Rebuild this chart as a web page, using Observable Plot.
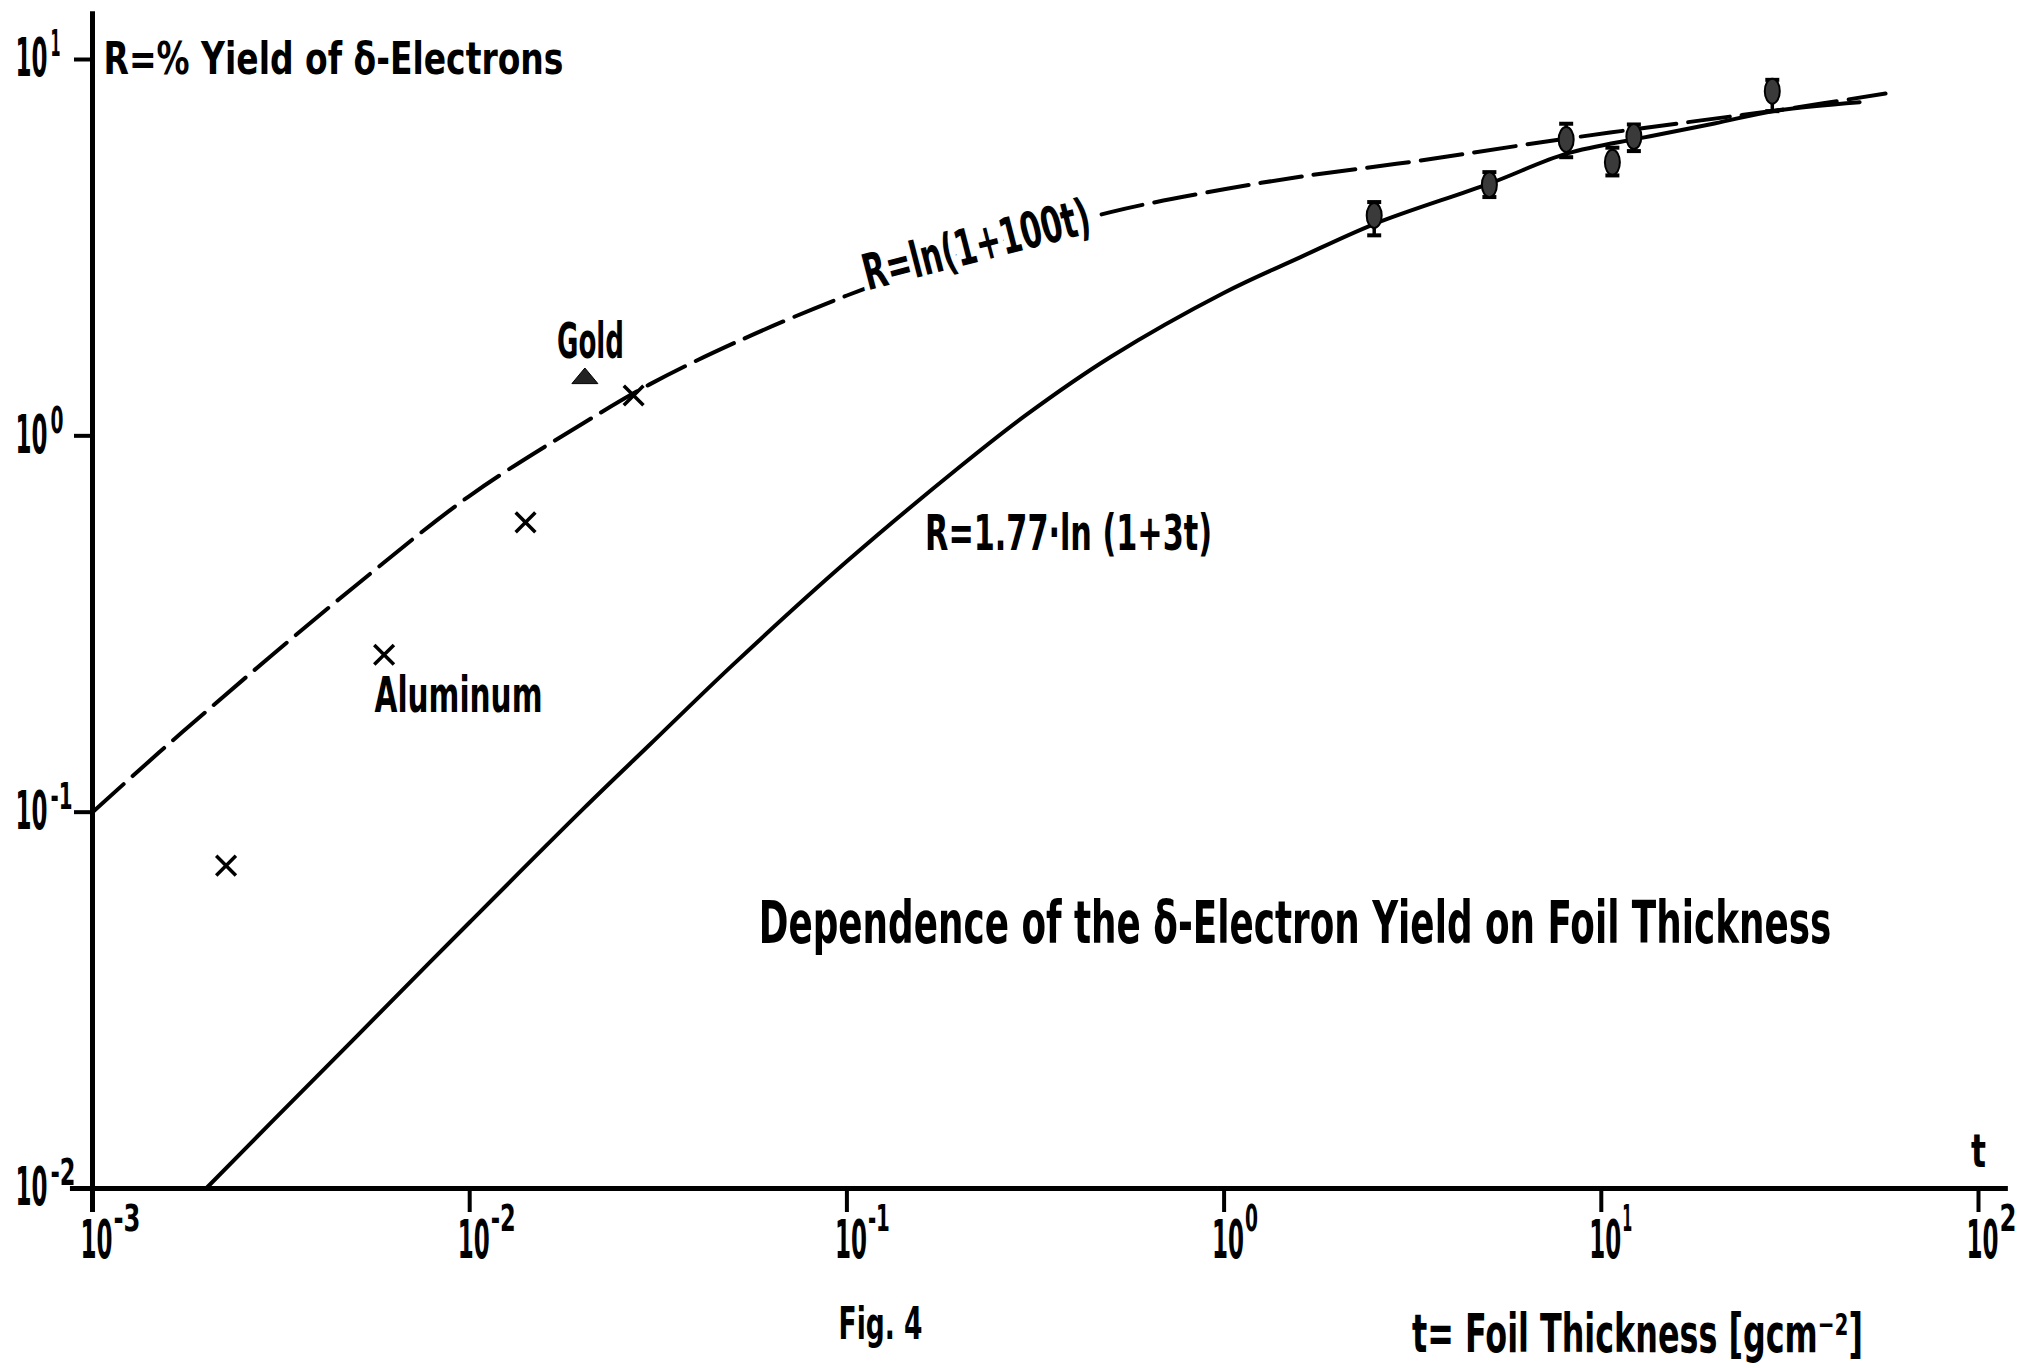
<!DOCTYPE html>
<html><head><meta charset="utf-8">
<script src="https://cdn.jsdelivr.net/npm/d3@7"></script>
<script src="https://cdn.jsdelivr.net/npm/@observablehq/plot@0.6"></script>
<style>
html,body{margin:0;padding:0;background:#fff;}
svg{display:block;}
</style></head><body><div id="chart"></div>
<script>
const FONT = '"DejaVu Sans Condensed","Liberation Sans Narrow","DejaVu Sans",sans-serif';

// tick values
const xTicks = [1e-3, 1e-2, 1e-1, 1e0, 1e1, 1e2];
const yTicks = [1e-2, 1e-1, 1e0, 1e1];

// dashed curve R = ln(1+100t)
const dashT = [0.001, 0.0015, 0.002, 0.003, 0.005, 0.01, 0.02, 0.03, 0.05, 0.1, 0.2, 0.5, 1.0, 1.59, 3.32, 7.7, 18.4, 29.0, 56.7];
const dashR = [0.100, 0.144, 0.185, 0.262, 0.401, 0.693, 1.08, 1.37, 1.76, 2.36, 3.02, 3.93, 4.52, 4.88, 5.39, 6.12, 6.89, 7.32, 8.12];

// solid curve R = 1.77 ln(1+3t)
const solidT = [0.002, 0.003, 0.005, 0.01, 0.02, 0.03, 0.05, 0.1, 0.2, 0.3, 0.5, 1.0, 1.59, 2.51, 5.05, 8.09, 12.9, 19.95, 28.8, 48.4];
const solidR = [0.0100, 0.0151, 0.0253, 0.051, 0.102, 0.151, 0.247, 0.464, 0.83, 1.14, 1.62, 2.40, 2.98, 3.66, 4.68, 5.62, 6.20, 6.76, 7.30, 7.70];

// measured points with error bars
const measT  = [2.50, 5.05, 8.07, 10.7, 12.2, 28.4];
const measR  = [3.85, 4.65, 6.13, 5.33, 6.24, 8.24];
const measLo = [3.41, 4.31, 5.50, 4.92, 5.71, 7.29];
const measHi = [4.18, 5.02, 6.75, 5.83, 6.72, 8.83];

// aluminum crosses
const alT = [0.00226, 0.00593, 0.01406, 0.0272];
const alR = [0.0721, 0.262, 0.589, 1.28];

// gold triangle
const goldT = [0.0202];
const goldR = [1.43];

// axis line extents
const yAxisLine = [0.00863, 13.4];
const xAxisLine = [0.000874, 120];

const dash = dashT.map((t, i) => ({t, R: dashR[i]}));
const solid = solidT.map((t, i) => ({t, R: solidR[i]}));
const meas = measT.map((t, i) => ({t, R: measR[i], lo: measLo[i], hi: measHi[i]}));
const al = alT.map((t, i) => ({t, R: alR[i]}));
const gold = goldT.map((t, i) => ({t, R: goldR[i]}));

const base = () => "10";
const expo = d => String(Math.round(Math.log10(d)));

const capSymbol = {draw(ctx, size) { const r = Math.sqrt(size / Math.PI); ctx.moveTo(-r, 0); ctx.lineTo(r, 0); }};
const ovalSymbol = {draw(ctx, size) {
  const r = Math.sqrt(size / Math.PI), rx = r * 0.6, ry = r, k = 0.5523;
  ctx.moveTo(0, -ry);
  ctx.bezierCurveTo(k * rx, -ry, rx, -k * ry, rx, 0);
  ctx.bezierCurveTo(rx, k * ry, k * rx, ry, 0, ry);
  ctx.bezierCurveTo(-k * rx, ry, -rx, k * ry, -rx, 0);
  ctx.bezierCurveTo(-rx, -k * ry, -k * rx, -ry, 0, -ry);
  ctx.closePath();
}};
const flatTriangle = {draw(ctx, size) {
  const r = Math.sqrt(size / Math.PI), w = r * 1.0, h = r * 1.2;
  ctx.moveTo(0, -h * 0.6); ctx.lineTo(w, h * 0.4); ctx.lineTo(-w, h * 0.4); ctx.closePath();
}};

const chart = Plot.plot({
  width: 2022, height: 1368,
  marginLeft: 92, marginRight: 44, marginTop: 59, marginBottom: 180,
  style: {fontFamily: FONT, fontWeight: "bold", color: "black", background: "white"},
  x: {type: "log", domain: [1e-3, 1e2], axis: null},
  y: {type: "log", domain: [1e-2, 1e1], axis: null},
  marks: [
    // axis lines
    Plot.ruleX([1e-3], {y1: yAxisLine[0], y2: yAxisLine[1], strokeWidth: 5, clip: false}),
    Plot.ruleY([1e-2], {x1: xAxisLine[0], x2: xAxisLine[1], strokeWidth: 5, clip: false}),
    // tick marks (down from the x axis, left from the y axis)
    Plot.ruleX(xTicks, {y1: 1e-2, y2: 1e-2, insetBottom: -24, strokeWidth: 4, clip: false}),
    Plot.ruleY(yTicks, {x1: 1e-3, x2: 1e-3, insetLeft: -18, strokeWidth: 4, clip: false}),
    // tick labels: "10" and its exponent
    Plot.axisX({ticks: xTicks, tickSize: 0, tickPadding: 32, tickFormat: base, fontSize: 53, dx: 4, label: null}),
    Plot.axisX({ticks: xTicks, tickSize: 0, tickPadding: 16, tickFormat: expo, fontSize: 37, textAnchor: "start", dx: 21, label: null}),
    Plot.axisY({ticks: yTicks, tickSize: 0, tickPadding: 77, tickFormat: base, fontSize: 53, textAnchor: "start", label: null}),
    Plot.axisY({ticks: yTicks, tickSize: 0, tickPadding: 42, tickFormat: expo, fontSize: 37, textAnchor: "start", dy: -15, label: null}),
    // curves
    Plot.line(dash, {x: "t", y: "R", strokeWidth: 4, strokeDasharray: "42,12", curve: "catmull-rom"}),
    Plot.line(solid, {x: "t", y: "R", strokeWidth: 4, curve: "catmull-rom"}),
    // error bars
    Plot.ruleX(meas, {x: "t", y1: "lo", y2: "hi", strokeWidth: 3.5}),
    Plot.dot(meas, {x: "t", y: "lo", symbol: capSymbol, r: 7, stroke: "black", strokeWidth: 4}),
    Plot.dot(meas, {x: "t", y: "hi", symbol: capSymbol, r: 7, stroke: "black", strokeWidth: 4}),
    Plot.dot(meas, {x: "t", y: "R", symbol: ovalSymbol, r: 12.5, fill: "#3a3a3a", stroke: "black", strokeWidth: 2}),
    // aluminum & gold
    Plot.dot(al, {x: "t", y: "R", symbol: "times", r: 9, stroke: "black", strokeWidth: 3.5}),
    Plot.dot(gold, {x: "t", y: "R", symbol: flatTriangle, r: 13, fill: "#222", stroke: "black", strokeWidth: 1}),
    // annotations
    Plot.text(["Gold"], {x: [0.0209], y: [1.78], fontSize: 50, textAnchor: "middle"}),
    Plot.text(["Aluminum"], {x: [0.00934], y: [0.203], fontSize: 50, textAnchor: "middle"}),
    Plot.text(["R=1.77·ln (1+3t)"], {x: [0.387], y: [0.55], fontSize: 50, textAnchor: "middle"}),
    Plot.text(["R=ln(1+100t)"], {x: [0.2207], y: [3.2], fontSize: 50, textAnchor: "middle", rotate: -14.5}),
    Plot.text(["Dependence of the δ-Electron Yield on Foil Thickness"], {x: [1.542], y: [0.0503], fontSize: 58, textAnchor: "middle"}),
    Plot.text(["R=% Yield of δ-Electrons"], {frameAnchor: "top-left", textAnchor: "start", dx: 11, dy: -17, fontSize: 44}),
    Plot.text(["t"], {frameAnchor: "bottom-right", textAnchor: "middle", dy: -22, fontSize: 46}),
    Plot.text(["Fig. 4"], {frameAnchor: "bottom-left", textAnchor: "middle", dx: 788, dy: 150, fontSize: 44}),
    Plot.text(["t= Foil Thickness [gcm⁻²]"], {frameAnchor: "bottom-left", textAnchor: "middle", dx: 1545, dy: 163, fontSize: 53})
  ]
});

document.getElementById("chart").append(chart);

// condensed lettering: squeeze each text horizontally (around its anchor) to the reference lettering width
const widths = {
  "R=% Yield of δ-Electrons": 460, "Gold": 67, "Aluminum": 168,
  "Dependence of the δ-Electron Yield on Foil Thickness": 1073,
  "R=1.77·ln (1+3t)": 287, "Fig. 4": 84,
  "t= Foil Thickness [gcm⁻²]": 451, "t": 15,
  "10": 32, "-3": 27, "-2": 25, "-1": 22, "0": 13, "1": 10, "2": 17
};
const NS = "http://www.w3.org/2000/svg";
Array.from(chart.querySelectorAll("text")).forEach(el => {
  const txt = el.textContent;
  if (txt === "R=ln(1+100t)") {
    el.setAttribute("stroke", "white");
    el.setAttribute("stroke-width", "16");
    el.setAttribute("stroke-linejoin", "round");
    el.style.paintOrder = "stroke";
    el.setAttribute("textLength", 233);
    el.setAttribute("lengthAdjust", "spacingAndGlyphs");
    return;
  }
  const w = widths[txt];
  if (!w) return;
  const nat = el.getComputedTextLength();
  if (!nat) return;
  const sx = w / nat;
  const xl = el.x.baseVal, yl = el.y.baseVal;
  const x = xl.numberOfItems ? xl.getItem(0).value : 0;
  const y = yl.numberOfItems ? yl.getItem(0).value : 0;
  const tl = el.transform.baseVal.consolidate();
  const m = tl ? tl.matrix : null;
  const px = m ? m.a * x + m.c * y + m.e : x;
  const py = m ? m.b * x + m.d * y + m.f : y;
  const g = document.createElementNS(NS, "g");
  g.setAttribute("transform", `translate(${px},${py}) scale(${sx},1) translate(${-px},${-py})`);
  el.parentNode.insertBefore(g, el);
  g.appendChild(el);
});
</script></body></html>
